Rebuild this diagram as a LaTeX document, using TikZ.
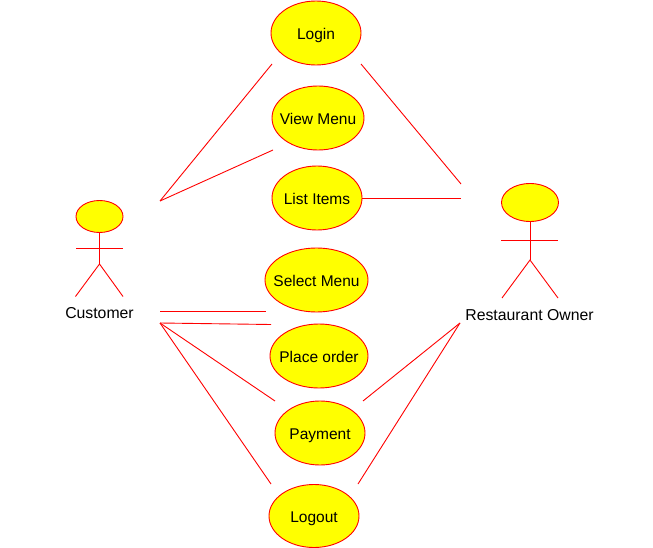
\documentclass[tikz,border=0pt]{standalone}
\usepackage{fontspec}
\setmainfont{Liberation Sans}
\usetikzlibrary{shapes.geometric}
\definecolor{ucred}{RGB}{255,0,0}
\definecolor{ucyellow}{RGB}{255,255,0}
\newcommand{\uctext}[1]{\makebox[0pt]{\raisebox{-0.42em}[0pt][0pt]{#1}}}
\tikzset{
  usecase/.style={ellipse,draw=ucred,fill=ucyellow,line width=0.9pt,inner sep=0pt,font=\fontsize{15.5}{17}\selectfont,text=black},
  head/.style={ellipse,draw=ucred,fill=ucyellow,line width=0.9pt,inner sep=0pt},
  link/.style={draw=ucred,line width=0.9pt},
  actorlabel/.style={font=\fontsize{15.8}{18}\selectfont,text=black,inner sep=0pt}
}
\begin{document}
\begin{tikzpicture}[x=1pt,y=-1pt]
\useasboundingbox (0,0) rectangle (653,548);
% use cases
\node[usecase,minimum width=90pt,minimum height=64pt] (login) at (316,33) {\uctext{Login}};
\node[usecase,minimum width=92pt,minimum height=64pt] (view) at (318,118) {\uctext{View Menu}};
\node[usecase,minimum width=90pt,minimum height=64pt] (list) at (317,198) {\uctext{List Items}};
\node[usecase,minimum width=103pt,minimum height=64pt] (select) at (316.5,280) {\uctext{Select Menu}};
\node[usecase,minimum width=98pt,minimum height=64pt] (place) at (319,356) {\uctext{Place order}};
\node[usecase,minimum width=90pt,minimum height=64pt] (pay) at (320,433) {\uctext{Payment}};
\node[usecase,minimum width=90pt,minimum height=63pt] (logout) at (314,516) {\uctext{Logout}};
% customer actor
\node[head,minimum width=47pt,minimum height=32pt] (chead) at (99.5,216.5) {};
\coordinate (chip) at (99.5,264);
\coordinate (carml) at (76,248);
\coordinate (carmr) at (123,248);
\coordinate (clegl) at (75.5,296.5);
\coordinate (clegr) at (123,296.5);
\draw[link] (chead.south) -- (chip);
\draw[link] (carml) -- (carmr);
\draw[link] (clegl) -- (chip) -- (clegr);
\node[actorlabel] (clabel) at (99.5,313) {Customer};
% owner actor
\node[head,minimum width=57pt,minimum height=38pt] (ohead) at (530,202.5) {};
\coordinate (ohip) at (530,260);
\coordinate (oarml) at (501,240.5);
\coordinate (oarmr) at (558,240.5);
\coordinate (olegl) at (502,298);
\coordinate (olegr) at (558,298);
\draw[link] (ohead.south) -- (ohip);
\draw[link] (oarml) -- (oarmr);
\draw[link] (olegl) -- (ohip) -- (olegr);
\node[actorlabel] (olabel) at (529.5,315) {Restaurant Owner};
% connector ends
\coordinate (ca) at (160,201);
\coordinate (cb) at (160,311.5);
\coordinate (cc) at (160,323);
\coordinate (oa) at (461,184);
\coordinate (ob) at (461,198);
\coordinate (oc) at (460,323);
\coordinate (loginl) at (272,64);
\coordinate (loginr) at (361,64);
\coordinate (viewl) at (273,150);
\coordinate (selectl) at (266,311.5);
\coordinate (placel) at (271,324.5);
\coordinate (payl) at (275,401);
\coordinate (payr) at (363,401);
\coordinate (logoutl) at (271,484);
\coordinate (logoutr) at (358,484);
% connectors
\draw[link] (ca) -- (loginl);
\draw[link] (ca) -- (viewl);
\draw[link] (cb) -- (selectl);
\draw[link] (cc) -- (placel);
\draw[link] (cc) -- (payl);
\draw[link] (cc) -- (logoutl);
\draw[link] (loginr) -- (oa);
\draw[link] (list.east) -- (ob);
\draw[link] (payr) -- (oc);
\draw[link] (logoutr) -- (oc);
\end{tikzpicture}
\end{document}
